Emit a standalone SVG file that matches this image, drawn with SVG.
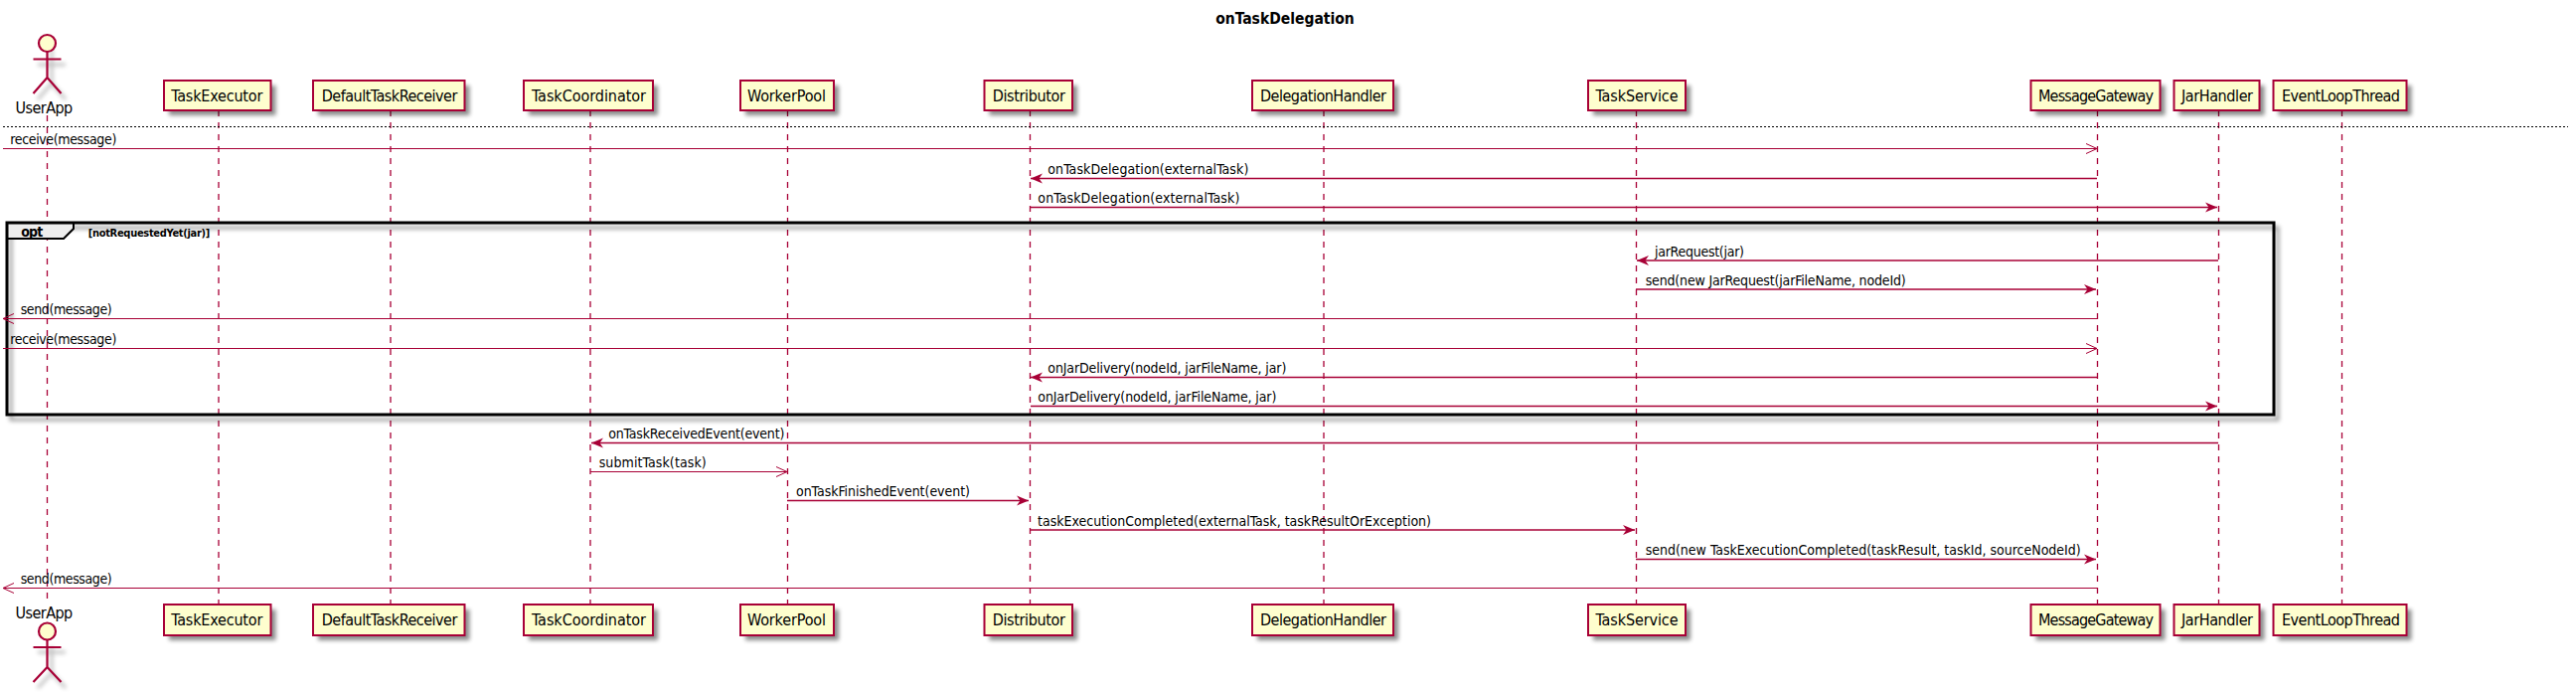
<svg xmlns="http://www.w3.org/2000/svg" width="2592" height="696" viewBox="0 0 2592 696">
<style>
text{font-family:"DejaVu Sans Condensed","DejaVu Sans","Liberation Sans",sans-serif;font-stretch:condensed;fill:#000}
.n{font-size:16px}
.m{font-size:14px}
.b{fill:#FEFECE;stroke:#A80036;stroke-width:2}
.l{stroke:#A80036;stroke-width:1.3;stroke-dasharray:6 6;fill:none}
.c{stroke:#A80036;stroke-width:1.4;fill:none}
.o{stroke:#A80036;stroke-width:1.2;fill:none}
.a{fill:#FEFECE;stroke:#A80036;stroke-width:2.2}
.s{stroke:#A80036;stroke-width:2.2;fill:none}
.sh{fill:#000;opacity:.45;filter:url(#blur)}
.ss{stroke:#000;opacity:.25;stroke-width:3;fill:none;filter:url(#blur)}
</style>
<defs>
<filter id="blur" x="-30%" y="-30%" width="160%" height="160%"><feGaussianBlur stdDeviation="2"/></filter>
<marker id="f" markerUnits="userSpaceOnUse" markerWidth="14" markerHeight="12" refX="12" refY="6" orient="auto-start-reverse"><path d="M0 1L12 6L0 11L3.5 6Z" fill="#A80036"/></marker>
<marker id="p" markerUnits="userSpaceOnUse" markerWidth="14" markerHeight="12" refX="12" refY="6" orient="auto-start-reverse"><path d="M1 1L12 6L1 11" fill="none" stroke="#A80036" stroke-width="1"/></marker>
</defs>
<rect width="2592" height="696" fill="#fff"/>
<text x="1293" y="24" text-anchor="middle" style="font-size:15.5px;font-weight:700">onTaskDelegation</text>

<g id="lifelines">
<path class="l" d="M47.5 116V606M220 111V608M393 111V608M594 111V608M792.5 111V608M1036.5 111V608M1332 111V608M1646.5 111V608M2110.5 111V608M2232.5 111V608M2356.5 111V608"/>
</g>

<path d="M3 127.5H2584" stroke="#000" stroke-width="1.2" stroke-dasharray="2 2" fill="none"/>

<g id="opt-frame">
<rect x="11" y="229" width="2281" height="193" style="fill:none;stroke:#000;stroke-width:3;opacity:.4;filter:url(#blur)"/>
<path d="M7 240H64L74 230V224H7Z" fill="#EEE" stroke="#000" stroke-width="2"/>
<rect x="7" y="224" width="2281" height="193" fill="none" stroke="#000" stroke-width="3"/>
<text x="21.3" y="237.5" textLength="22" style="font-size:14px;font-weight:700">opt</text>
<text x="88.7" y="237.5" textLength="122.6" style="font-size:11px;font-weight:700">[notRequestedYet(jar)]</text>
</g>

<g id="connectors">
<path class="o" marker-end="url(#p)" d="M3 149.5H2110"/>
<path class="c" marker-end="url(#f)" d="M2110 179.5H1037"/>
<path class="c" marker-end="url(#f)" d="M1037 208.5H2231"/>
<path class="c" marker-end="url(#f)" d="M2232 262H1647"/>
<path class="c" marker-end="url(#f)" d="M1646 291H2109"/>
<path class="o" marker-end="url(#p)" d="M2110 320.5H3"/>
<path class="o" marker-end="url(#p)" d="M3 350.5H2110"/>
<path class="c" marker-end="url(#f)" d="M2110 379.5H1037"/>
<path class="c" marker-end="url(#f)" d="M1037 408.5H2231"/>
<path class="c" marker-end="url(#f)" d="M2232 445.5H595"/>
<path class="o" marker-end="url(#p)" d="M594 474.5H792"/>
<path class="c" marker-end="url(#f)" d="M792 503.5H1035"/>
<path class="c" marker-end="url(#f)" d="M1037 533H1645"/>
<path class="c" marker-end="url(#f)" d="M1646 562.5H2109"/>
<path class="o" marker-end="url(#p)" d="M2110 591.5H3"/>
</g>

<g id="labels">
<text class="m" x="10.3" y="145" textLength="107">receive(message)</text>
<text class="m" x="1054.3" y="175" textLength="202">onTaskDelegation(externalTask)</text>
<text class="m" x="1044.3" y="204" textLength="203">onTaskDelegation(externalTask)</text>
<text class="m" x="1665" y="258" textLength="90">jarRequest(jar)</text>
<text class="m" x="1655.7" y="287" textLength="262">send(new JarRequest(jarFileName, nodeId)</text>
<text class="m" x="20.7" y="316" textLength="92">send(message)</text>
<text class="m" x="10.3" y="346" textLength="107">receive(message)</text>
<text class="m" x="1054.3" y="375" textLength="240">onJarDelivery(nodeId, jarFileName, jar)</text>
<text class="m" x="1044.3" y="404" textLength="240">onJarDelivery(nodeId, jarFileName, jar)</text>
<text class="m" x="612.3" y="441" textLength="177">onTaskReceivedEvent(event)</text>
<text class="m" x="602.7" y="470" textLength="108">submitTask(task)</text>
<text class="m" x="801" y="499" textLength="175">onTaskFinishedEvent(event)</text>
<text class="m" x="1044" y="529" textLength="396">taskExecutionCompleted(externalTask, taskResultOrException)</text>
<text class="m" x="1655.7" y="558" textLength="438">send(new TaskExecutionCompleted(taskResult, taskId, sourceNodeId)</text>
<text class="m" x="20.7" y="587" textLength="92">send(message)</text>
</g>

<g id="UserApp-top">
<path class="ss" d="M52 49V84M38 65H66M52 84L38 100M52 84L66 100"/>
<circle class="a" cx="47.5" cy="43.5" r="8.5"/>
<path class="s" d="M47.5 52V78M33.5 59.5H61.5M47.5 78L33.5 94M47.5 78L61.5 94"/>
<text class="n" x="15.6" y="114" textLength="57.6">UserApp</text>
</g>
<g id="UserApp-bottom">
<path class="ss" d="M52 650V677M38 656H66M52 677L38 692M52 677L66 692"/>
<circle class="a" cx="47.5" cy="635" r="8.5"/>
<path class="s" d="M47.5 643.5V671M33.5 651H61.5M47.5 671L33.5 686M47.5 671L61.5 686"/>
<text class="n" x="15.6" y="622" textLength="57.6">UserApp</text>
</g>

<g id="TaskExecutor-top"><rect class="sh" x="170" y="86" width="107.5" height="30"/><rect class="b" x="165" y="81" width="107.5" height="30"/><text class="n" x="172.3" y="102" textLength="92">TaskExecutor</text></g>
<g id="DefaultTaskReceiver-top"><rect class="sh" x="320" y="86" width="152.5" height="30"/><rect class="b" x="315" y="81" width="152.5" height="30"/><text class="n" x="323.7" y="102" textLength="136.7">DefaultTaskReceiver</text></g>
<g id="TaskCoordinator-top"><rect class="sh" x="532" y="86" width="130" height="30"/><rect class="b" x="527" y="81" width="130" height="30"/><text class="n" x="535" y="102" textLength="115">TaskCoordinator</text></g>
<g id="WorkerPool-top"><rect class="sh" x="750" y="86" width="94" height="30"/><rect class="b" x="745" y="81" width="94" height="30"/><text class="n" x="752" y="102" textLength="79">WorkerPool</text></g>
<g id="Distributor-top"><rect class="sh" x="995.5" y="86" width="88.5" height="30"/><rect class="b" x="990.5" y="81" width="88.5" height="30"/><text class="n" x="998.7" y="102" textLength="73.3">Distributor</text></g>
<g id="DelegationHandler-top"><rect class="sh" x="1265" y="86" width="142" height="30"/><rect class="b" x="1260" y="81" width="142" height="30"/><text class="n" x="1268" y="102" textLength="127">DelegationHandler</text></g>
<g id="TaskService-top"><rect class="sh" x="1603" y="86" width="98" height="30"/><rect class="b" x="1598" y="81" width="98" height="30"/><text class="n" x="1605.5" y="102" textLength="83">TaskService</text></g>
<g id="MessageGateway-top"><rect class="sh" x="2048.5" y="86" width="130" height="30"/><rect class="b" x="2043.5" y="81" width="130" height="30"/><text class="n" x="2051" y="102" textLength="116">MessageGateway</text></g>
<g id="JarHandler-top"><rect class="sh" x="2192.5" y="86" width="86" height="30"/><rect class="b" x="2187.5" y="81" width="86" height="30"/><text class="n" x="2195" y="102" textLength="72">JarHandler</text></g>
<g id="EventLoopThread-top"><rect class="sh" x="2292.5" y="86" width="134" height="30"/><rect class="b" x="2287.5" y="81" width="134" height="30"/><text class="n" x="2296" y="102" textLength="119">EventLoopThread</text></g>

<g id="TaskExecutor-bottom"><rect class="sh" x="170" y="613" width="107.5" height="31"/><rect class="b" x="165" y="608" width="107.5" height="31"/><text class="n" x="172.3" y="629" textLength="92">TaskExecutor</text></g>
<g id="DefaultTaskReceiver-bottom"><rect class="sh" x="320" y="613" width="152.5" height="31"/><rect class="b" x="315" y="608" width="152.5" height="31"/><text class="n" x="323.7" y="629" textLength="136.7">DefaultTaskReceiver</text></g>
<g id="TaskCoordinator-bottom"><rect class="sh" x="532" y="613" width="130" height="31"/><rect class="b" x="527" y="608" width="130" height="31"/><text class="n" x="535" y="629" textLength="115">TaskCoordinator</text></g>
<g id="WorkerPool-bottom"><rect class="sh" x="750" y="613" width="94" height="31"/><rect class="b" x="745" y="608" width="94" height="31"/><text class="n" x="752" y="629" textLength="79">WorkerPool</text></g>
<g id="Distributor-bottom"><rect class="sh" x="995.5" y="613" width="88.5" height="31"/><rect class="b" x="990.5" y="608" width="88.5" height="31"/><text class="n" x="998.7" y="629" textLength="73.3">Distributor</text></g>
<g id="DelegationHandler-bottom"><rect class="sh" x="1265" y="613" width="142" height="31"/><rect class="b" x="1260" y="608" width="142" height="31"/><text class="n" x="1268" y="629" textLength="127">DelegationHandler</text></g>
<g id="TaskService-bottom"><rect class="sh" x="1603" y="613" width="98" height="31"/><rect class="b" x="1598" y="608" width="98" height="31"/><text class="n" x="1605.5" y="629" textLength="83">TaskService</text></g>
<g id="MessageGateway-bottom"><rect class="sh" x="2048.5" y="613" width="130" height="31"/><rect class="b" x="2043.5" y="608" width="130" height="31"/><text class="n" x="2051" y="629" textLength="116">MessageGateway</text></g>
<g id="JarHandler-bottom"><rect class="sh" x="2192.5" y="613" width="86" height="31"/><rect class="b" x="2187.5" y="608" width="86" height="31"/><text class="n" x="2195" y="629" textLength="72">JarHandler</text></g>
<g id="EventLoopThread-bottom"><rect class="sh" x="2292.5" y="613" width="134" height="31"/><rect class="b" x="2287.5" y="608" width="134" height="31"/><text class="n" x="2296" y="629" textLength="119">EventLoopThread</text></g>
</svg>
